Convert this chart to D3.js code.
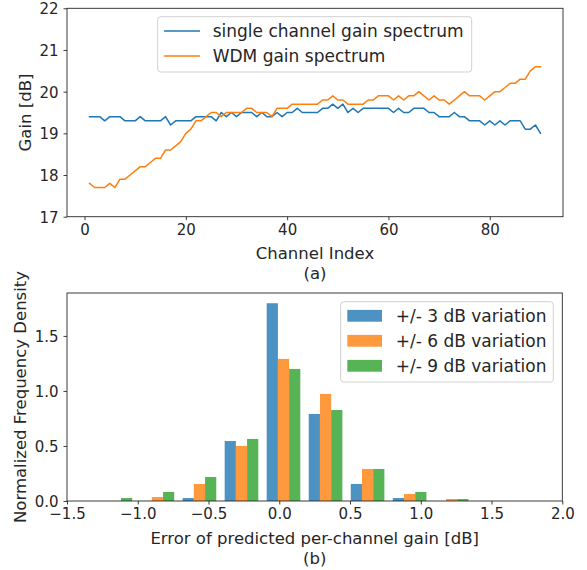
<!DOCTYPE html>
<html><head><meta charset="utf-8">
<script src="https://cdn.jsdelivr.net/npm/d3@7"></script>
<style>
html,body{margin:0;padding:0;background:#fff;}
svg{display:block;font-family:"DejaVu Sans",sans-serif;}
</style></head>
<body><svg id="c" width="587" height="570"></svg>
<script>
// ---- Data: panel (a) ----
const singleGain = [19.4,19.4,19.4,19.3,19.4,19.4,19.4,19.3,19.3,19.3,
  19.4,19.3,19.3,19.3,19.3,19.4,19.2,19.3,19.3,19.3,
  19.3,19.4,19.4,19.4,19.4,19.3,19.5,19.4,19.5,19.4,
  19.5,19.5,19.5,19.4,19.5,19.4,19.4,19.5,19.4,19.5,
  19.5,19.6,19.5,19.5,19.5,19.5,19.6,19.6,19.7,19.6,
  19.7,19.5,19.6,19.5,19.6,19.6,19.6,19.6,19.6,19.6,
  19.5,19.6,19.5,19.5,19.6,19.6,19.6,19.5,19.5,19.4,
  19.4,19.4,19.5,19.4,19.4,19.3,19.3,19.3,19.2,19.3,
  19.2,19.3,19.2,19.3,19.3,19.3,19.1,19.1,19.2,19.0];
const wdmGain = [17.8,17.7,17.7,17.7,17.8,17.7,17.9,17.9,18.0,18.1,
  18.2,18.2,18.3,18.4,18.4,18.6,18.6,18.7,18.8,19.0,
  19.1,19.3,19.3,19.4,19.5,19.5,19.4,19.5,19.5,19.5,
  19.5,19.6,19.6,19.5,19.5,19.5,19.4,19.6,19.6,19.6,
  19.7,19.7,19.7,19.7,19.7,19.7,19.8,19.8,19.9,19.8,
  19.8,19.7,19.7,19.7,19.7,19.8,19.8,19.9,19.9,19.9,
  19.8,19.9,19.8,19.9,19.9,20.0,19.9,19.8,19.9,19.8,
  19.8,19.7,19.8,19.9,20.0,19.9,19.9,19.9,19.8,19.9,
  20.0,20.0,20.1,20.2,20.2,20.3,20.3,20.5,20.6,20.6];
const lineSeries = ["single channel gain spectrum","WDM gain spectrum"];
const xTicksA = [0,20,40,60,80];
const yTicksA = [17,18,19,20,21,22];

// ---- Data: panel (b) ----
const binCenters = [-1.158,-0.861,-0.564,-0.267,0.030,0.327,0.624,0.921,1.218];
const dens3 = [0,0,0.027,0.545,1.797,0.791,0.155,0.027,0];
const dens6 = [0,0.036,0.155,0.500,1.291,0.973,0.291,0.064,0.018];
const dens9 = [0.027,0.082,0.218,0.564,1.200,0.827,0.291,0.082,0.018];
const histSeries = ["+/- 3 dB variation","+/- 6 dB variation","+/- 9 dB variation"];
const xTicksB = [-1.5,-1.0,-0.5,0.0,0.5,1.0,1.5,2.0];
const yTicksB = [0.0,0.5,1.0,1.5];

const lineColors = ["#1f77b4","#ff7f0e"];
const barColors = ["#1f77b4","#ff7f0e","#2ca02c"];
const textCol = "#262626", axCol = "#262626";

const svg = d3.select("#c");

function styleAxis(g){
  g.selectAll(".domain").remove();
  g.selectAll(".tick line").attr("stroke",axCol).attr("stroke-width",0.9);
  g.selectAll(".tick text").attr("fill",textCol).attr("font-size",15).attr("font-family","DejaVu Sans");
}

// ===== Panel (a) =====
const A = {l:67, r:563, t:8.3, b:216.7};
const xA = d3.scaleLinear().domain([-3.45,94.45]).range([A.l,A.r]);
const yA = d3.scaleLinear().domain([17,22]).range([A.b,A.t]);

const gxA = svg.append("g").attr("transform",`translate(0,${A.b})`)
  .call(d3.axisBottom(xA).tickValues(xTicksA).tickFormat(d3.format("d")).tickSize(3.5).tickPadding(4));
styleAxis(gxA);
const gyA = svg.append("g").attr("transform",`translate(${A.l},0)`)
  .call(d3.axisLeft(yA).tickValues(yTicksA).tickFormat(d3.format("d")).tickSize(3.5).tickPadding(5));
styleAxis(gyA);
gyA.selectAll(".tick text").attr("dy","0.36em");

const lineGen = d3.line().x((d,i)=>xA(i+1)).y(d=>yA(d));
[singleGain,wdmGain].forEach((s,k)=>{
  svg.append("path").datum(s).attr("d",lineGen).attr("fill","none")
    .attr("stroke",lineColors[k]).attr("stroke-width",1.5).attr("stroke-linejoin","round").attr("stroke-linecap","square");
});
svg.append("rect").attr("x",A.l).attr("y",A.t).attr("width",A.r-A.l).attr("height",A.b-A.t)
  .attr("fill","none").attr("stroke",axCol).attr("stroke-width",0.9);

// legend (a)
const legA = svg.append("g");
legA.append("rect").attr("x",157.7).attr("y",16.7).attr("width",314).attr("height",55.3).attr("rx",3)
  .attr("fill","#fff").attr("fill-opacity",0.8).attr("stroke","#cccccc").attr("stroke-width",0.9);
lineSeries.forEach((name,k)=>{
  const cy = 31 + k*25;
  legA.append("line").attr("x1",164).attr("x2",200).attr("y1",cy).attr("y2",cy)
    .attr("stroke",lineColors[k]).attr("stroke-width",1.5);
  legA.append("text").attr("x",212.7).attr("y",cy+6).attr("font-size",17).attr("fill",textCol).text(name);
});

svg.append("text").attr("x",(A.l+A.r)/2).attr("y",259).attr("text-anchor","middle")
  .attr("font-size",16.5).attr("fill",textCol).text("Channel Index");
svg.append("text").attr("x",(A.l+A.r)/2).attr("y",279).attr("text-anchor","middle")
  .attr("font-size",16.5).attr("fill",textCol).text("(a)");
svg.append("text").attr("transform",`translate(30.5,${(A.t+A.b)/2}) rotate(-90)`).attr("text-anchor","middle")
  .attr("font-size",16.5).attr("fill",textCol).text("Gain [dB]");

// ===== Panel (b) =====
const B = {l:67, r:562.3, t:293, b:501};
const xB = d3.scaleLinear().domain([-1.5,2.0]).range([B.l,B.r]);
const yB = d3.scaleLinear().domain([0,1.89]).range([B.b,B.t]);

const binW = binCenters[1]-binCenters[0];
const barW = 0.8*binW/3;
[dens3,dens6,dens9].forEach((vals,k)=>{
  svg.append("g").selectAll("rect").data(vals.map((v,i)=>({c:binCenters[i],v})).filter(d=>d.v>0))
    .join("rect")
    .attr("x",d=>xB(d.c + (k-1.5)*barW))
    .attr("width",d=>xB(d.c+(k-0.5)*barW)-xB(d.c+(k-1.5)*barW))
    .attr("y",d=>yB(d.v))
    .attr("height",d=>yB(0)-yB(d.v))
    .attr("fill",barColors[k]).attr("fill-opacity",0.8);
});

const gxB = svg.append("g").attr("transform",`translate(0,${B.b})`)
  .call(d3.axisBottom(xB).tickValues(xTicksB).tickFormat(d=>d3.format(".1f")(d).replace("-","\u2212")).tickSize(3.5).tickPadding(4));
styleAxis(gxB);
const gyB = svg.append("g").attr("transform",`translate(${B.l},0)`)
  .call(d3.axisLeft(yB).tickValues(yTicksB).tickFormat(d3.format(".1f")).tickSize(3.5).tickPadding(5));
styleAxis(gyB);
gyB.selectAll(".tick text").attr("dy","0.36em");

svg.append("rect").attr("x",B.l).attr("y",B.t).attr("width",B.r-B.l).attr("height",B.b-B.t)
  .attr("fill","none").attr("stroke",axCol).attr("stroke-width",0.9);

// legend (b)
const legB = svg.append("g");
legB.append("rect").attr("x",340.7).attr("y",301.7).attr("width",212.6).attr("height",80.3).attr("rx",3)
  .attr("fill","#fff").attr("fill-opacity",0.8).attr("stroke","#cccccc").attr("stroke-width",0.9);
histSeries.forEach((name,k)=>{
  const cy = 315.8 + k*25;
  legB.append("rect").attr("x",347.3).attr("y",cy-5.9).attr("width",34.7).attr("height",11.8)
    .attr("fill",barColors[k]).attr("fill-opacity",0.8);
  legB.append("text").attr("x",395.7).attr("y",cy+6).attr("font-size",17).attr("fill",textCol).text(name);
});

svg.append("text").attr("x",(B.l+B.r)/2).attr("y",544).attr("text-anchor","middle")
  .attr("font-size",16.5).attr("fill",textCol).text("Error of predicted per-channel gain [dB]");
svg.append("text").attr("x",(B.l+B.r)/2).attr("y",564).attr("text-anchor","middle")
  .attr("font-size",16.5).attr("fill",textCol).text("(b)");
svg.append("text").attr("transform",`translate(25.5,${(B.t+B.b)/2}) rotate(-90)`).attr("text-anchor","middle")
  .attr("font-size",16.5).attr("fill",textCol).text("Normalized Frequency Density");
</script>
</body></html>
